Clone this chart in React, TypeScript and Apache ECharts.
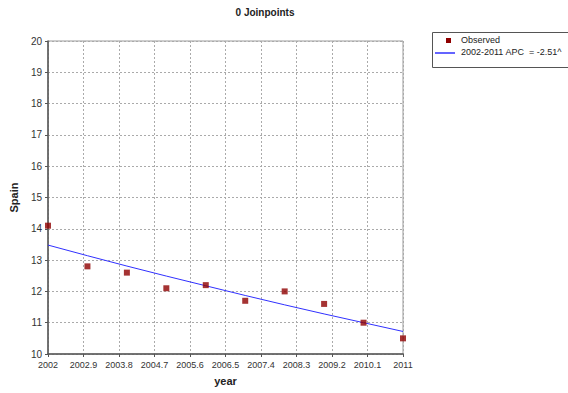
import React, { useEffect, useRef } from "react";
import * as echarts from "echarts";

const years = [2002, 2003, 2004, 2005, 2006, 2007, 2008, 2009, 2010, 2011];
const observed = [14.1, 12.8, 12.6, 12.1, 12.2, 11.7, 12.0, 11.6, 11.0, 10.5];
const fitted = [13.48, 13.14, 12.81, 12.49, 12.18, 11.87, 11.57, 11.28, 11.0, 10.72];
const xStart = 2002;
const xEnd = 2011;
const xStep = 0.9;
const yMin = 10;
const yMax = 20;
const titleText = "0 Joinpoints";
const legendObserved = "Observed";
const legendFit = "2002-2011 APC  = -2.51^";

const FONT = "Liberation Sans, Arial, sans-serif";

export default function App() {
  const ref = useRef<HTMLDivElement>(null);
  useEffect(() => {
    if (!ref.current) return;
    const chart = echarts.init(ref.current, undefined, { renderer: "svg" });
    chart.setOption({
      animation: false,
      backgroundColor: "#ffffff",
      title: {
        text: titleText,
        left: 260,
        top: 2,
        textAlign: "center",
        textStyle: { fontFamily: FONT, fontSize: 10, fontWeight: "bold", color: "#222" },
      },
      grid: {
        left: 43,
        right: 165,
        top: 41,
        bottom: 39,
        show: true,
        borderColor: "#9a9a9a",
        borderWidth: 1,
        containLabel: false,
      },
      xAxis: {
        type: "value",
        min: 0,
        max: xEnd - xStart,
        interval: xStep,
        name: "year",
        nameLocation: "middle",
        nameGap: 21,
        nameTextStyle: { fontFamily: FONT, fontSize: 11, fontWeight: "bold", color: "#222" },
        axisLine: { show: true, lineStyle: { color: "#555", width: 1.5 } },
        axisTick: { show: true, length: 3, lineStyle: { color: "#555" } },
        axisLabel: {
          fontFamily: FONT,
          fontSize: 9,
          color: "#333",
          margin: 6,
          showMinLabel: true,
          showMaxLabel: true,
          formatter: (v: number) => String(Math.round((v + xStart) * 10) / 10),
        },
        splitLine: { show: true, lineStyle: { color: "#aaa", type: [2, 2], width: 1 } },
      },
      yAxis: {
        type: "value",
        min: yMin,
        max: yMax,
        interval: 1,
        name: "Spain",
        nameLocation: "middle",
        nameGap: 29,
        nameRotate: 90,
        nameTextStyle: { fontFamily: FONT, fontSize: 11, fontWeight: "bold", color: "#222" },
        axisLine: { show: true, lineStyle: { color: "#555", width: 1.5 } },
        axisTick: { show: true, length: 3, lineStyle: { color: "#555" } },
        axisLabel: { fontFamily: FONT, fontSize: 10, color: "#333", margin: 6 },
        splitLine: { show: true, lineStyle: { color: "#aaa", type: [2, 2], width: 1 } },
      },
      series: [
        {
          name: legendFit,
          type: "line",
          data: years.map((y, i) => [y - xStart, fitted[i]]),
          symbol: "none",
          smooth: false,
          lineStyle: { color: "#3030ff", width: 1 },
          z: 2,
        },
        {
          name: legendObserved,
          type: "scatter",
          data: years.map((y, i) => [y - xStart, observed[i]]),
          symbol: "rect",
          symbolSize: 6,
          itemStyle: { color: "#8f0000" },
          z: 3,
        },
      ],
      graphic: [
        {
          type: "rect",
          left: 432,
          top: 32,
          shape: { width: 150, height: 35 },
          style: { fill: "#fff", stroke: "#555", lineWidth: 1 },
        },
        {
          type: "rect",
          left: 446,
          top: 38,
          shape: { width: 5, height: 5 },
          style: { fill: "#8f0000" },
        },
        {
          type: "text",
          left: 461,
          top: 35,
          style: { text: legendObserved, fontFamily: FONT, fontSize: 9, fill: "#222" },
        },
        {
          type: "line",
          shape: { x1: 435, y1: 53, x2: 455, y2: 53 },
          style: { stroke: "#3030ff", lineWidth: 1.5 },
        },
        {
          type: "text",
          left: 461,
          top: 47,
          style: { text: legendFit, fontFamily: FONT, fontSize: 9, fill: "#222" },
        },
      ],
    });
    return () => chart.dispose();
  }, []);
  return <div ref={ref} style={{ width: 568, height: 393, position: "absolute", left: 0, top: 0 }} />;
}
